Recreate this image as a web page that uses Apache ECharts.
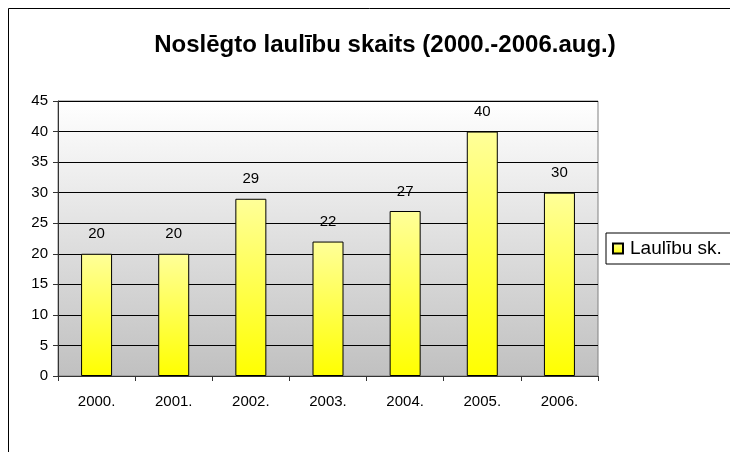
<!DOCTYPE html>
<html>
<head>
<meta charset="utf-8">
<script src="https://cdn.jsdelivr.net/npm/echarts@6/dist/echarts.min.js"></script>
<style>
  html, body { margin: 0; padding: 0; background: #fff; }
  #chart { width: 730px; height: 452px; }
</style>
</head>
<body>
<div id="chart"></div>
<script>
// dati no attēla
const years = ['2000.', '2001.', '2002.', '2003.', '2004.', '2005.', '2006.'];
const marriages = [20, 20, 29, 22, 27, 40, 30];
const seriesName = 'Laulību sk.';

const myChart = echarts.init(document.getElementById('chart'));
const font = 'Liberation Sans, Arial, sans-serif';

const options = {
  animation: false,
  title: {
    text: 'Noslēgto laulību skaits (2000.-2006.aug.)',
    left: 380,
    textAlign: 'center',
    top: 28,
    textStyle: { fontFamily: font, fontSize: 24, fontWeight: 'bold', color: '#000' }
  },
  graphic: [
    // ārējais rāmis
    {
      type: 'rect',
      shape: { x: 8.5, y: 8.5, width: 740, height: 460 },
      style: { fill: 'none', stroke: '#000', lineWidth: 1 },
      z: -1
    }
  ],
  legend: {
    data: [seriesName],
    left: 606,
    top: 233,
    padding: [6, 20, 6, 6],
    itemWidth: 10,
    itemHeight: 10,
    itemGap: 0,
    borderColor: '#000',
    borderWidth: 1,
    icon: 'rect',
    textStyle: { fontFamily: font, fontSize: 19, color: '#000', padding: [0, 0, 0, 2] }
  },
  grid: {
    left: 58,
    right: 132,
    top: 101,
    bottom: 76,
    show: true,
    borderColor: '#808080',
    borderWidth: 1,
    backgroundColor: new echarts.graphic.LinearGradient(0, 0, 0, 1, [
      { offset: 0, color: '#ffffff' },
      { offset: 1, color: '#c0c0c0' }
    ])
  },
  xAxis: {
    type: 'category',
    data: years,
    axisLine: { lineStyle: { color: '#333', width: 1 } },
    axisTick: { show: true, length: 5, lineStyle: { color: '#333' } },
    axisLabel: { fontFamily: font, fontSize: 15, color: '#000', margin: 18 }
  },
  yAxis: {
    type: 'value',
    min: 0,
    max: 45,
    interval: 5,
    axisLine: { show: true, lineStyle: { color: '#333', width: 1 } },
    axisTick: { show: true, length: 5, lineStyle: { color: '#333' } },
    axisLabel: { fontFamily: font, fontSize: 15, color: '#000', margin: 10 },
    splitLine: { lineStyle: { color: '#000', width: 1 } }
  },
  series: [
    {
      name: seriesName,
      type: 'bar',
      data: marriages,
      barWidth: 31,
      itemStyle: {
        color: new echarts.graphic.LinearGradient(0, 0, 0, 1, [
          { offset: 0, color: '#ffff99' },
          { offset: 1, color: '#ffff00' }
        ]),
        borderColor: '#000',
        borderWidth: 1
      },
      label: {
        show: true,
        position: 'top',
        distance: 12,
        fontFamily: font,
        fontSize: 15,
        color: '#000'
      }
    }
  ]
};

myChart.setOption(options);
</script>
</body>
</html>
